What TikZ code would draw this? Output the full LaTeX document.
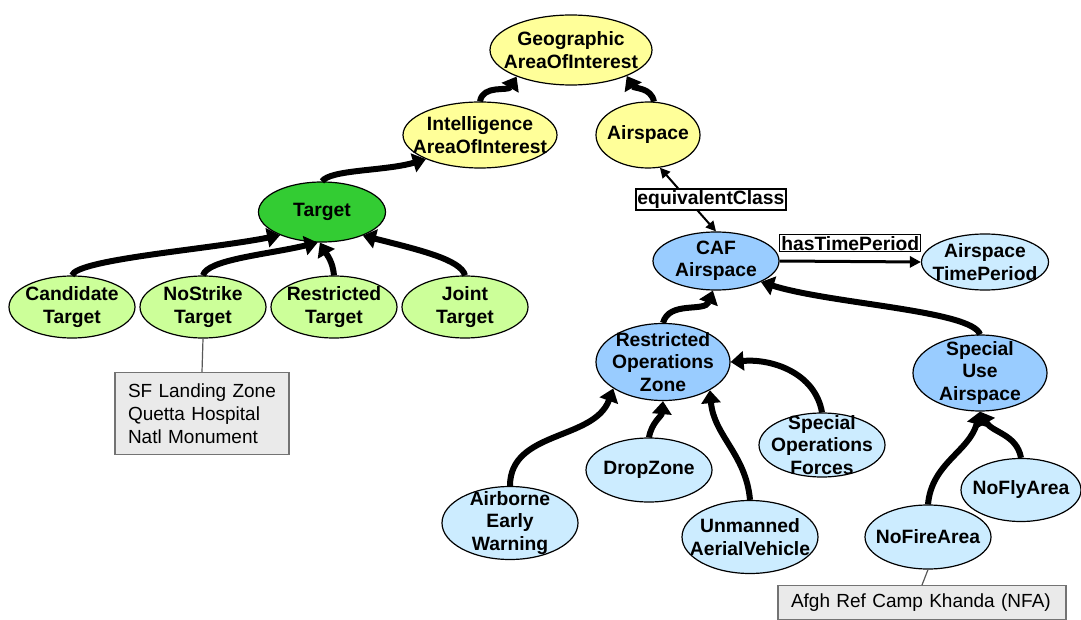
\documentclass[tikz,border=0pt]{standalone}
\usepackage{fontspec}
\setmainfont{Liberation Sans}
\usetikzlibrary{positioning,shapes.geometric,arrows.meta}
\definecolor{aoiyellow}{HTML}{FFFF99}
\definecolor{tgtgreen}{HTML}{33CC33}
\definecolor{subgreen}{HTML}{CCFF99}
\definecolor{cafblue}{HTML}{99CCFF}
\definecolor{subblue}{HTML}{CCECFF}
\definecolor{notegray}{HTML}{EAEAEA}
\tikzset{
  cls/.style={ellipse,draw=black,line width=1.2pt,align=center,
    inner xsep=-30pt,inner ysep=-20pt,
    font=\bfseries\fontsize{19.3}{22.5}\selectfont},
  isa/.style={line width=6pt,-{Triangle[length=13pt,width=19pt]}},
  rel/.style={line width=2pt,{Triangle[length=10pt,width=10pt]}-{Triangle[length=10pt,width=10pt]}},
  has/.style={line width=3pt,-{Triangle[length=11pt,width=11pt]}},
  lbl/.style={draw=black,line width=1.2pt,fill=white,inner xsep=1.5pt,inner ysep=1.5pt,
    font=\bfseries\fontsize{19.3}{22}\selectfont},
  note/.style={draw=black!55,fill=notegray,line width=1.2pt,align=left,anchor=north,
    inner xsep=13pt,font=\fontsize{19}{23}\selectfont},
  noteline/.style={draw=black!65,line width=1.2pt}
}
\begin{document}
\begin{tikzpicture}[x=1pt,y=1pt,line width=1pt]
  \useasboundingbox (0,0) rectangle (1081,-620);
  \node[cls,fill=aoiyellow,minimum width=162pt,minimum height=70pt] (geo) at (571,-50) {Geographic\\AreaOfInterest};
  \node[cls,fill=aoiyellow,minimum width=154pt,minimum height=66pt] (iaoi) at (480,-135) {Intelligence\\AreaOfInterest};
  \node[cls,fill=aoiyellow,minimum width=104pt,minimum height=66pt] (airsp) at (648,-135) {Airspace};
  \node[cls,fill=tgtgreen,minimum width=127pt,minimum height=60pt] (tgt) at (322,-212) {Target};
  \node[cls,fill=subgreen,minimum width=126pt,minimum height=62pt] (ctgt) at (72,-307) {Candidate\\Target};
  \node[cls,fill=subgreen,minimum width=126pt,minimum height=62pt] (nstgt) at (203,-307) {NoStrike\\Target};
  \node[cls,fill=subgreen,minimum width=126pt,minimum height=62pt] (rtgt) at (334,-307) {Restricted\\Target};
  \node[cls,fill=subgreen,minimum width=126pt,minimum height=62pt] (jtgt) at (465,-307) {Joint\\Target};
  \node[cls,fill=cafblue,minimum width=126pt,minimum height=58pt] (caf) at (716,-261) {CAF\\Airspace};
  \node[cls,fill=subblue,minimum width=127pt,minimum height=56pt] (atp) at (985,-262) {Airspace\\TimePeriod};
  \node[cls,fill=cafblue,minimum width=134pt,minimum height=77pt] (roz) at (663,-362) {Restricted\\Operations\\Zone};
  \node[cls,fill=cafblue,minimum width=134pt,minimum height=76pt] (sua) at (980,-373) {Special\\Use\\Airspace};
  \node[cls,fill=subblue,minimum width=126pt,minimum height=64pt] (dz) at (649,-470) {DropZone};
  \node[cls,fill=subblue,minimum width=136pt,minimum height=73pt] (aew) at (510,-523) {Airborne\\Early\\Warning};
  \node[cls,fill=subblue,minimum width=136pt,minimum height=73pt] (uav) at (750,-537) {Unmanned\\AerialVehicle};
  \node[cls,fill=subblue,minimum width=126pt,minimum height=64pt] (sof) at (822,-445) {Special\\Operations\\Forces};
  \node[cls,fill=subblue,minimum width=120pt,minimum height=63pt] (nfly) at (1021,-490) {NoFlyArea};
  \node[cls,fill=subblue,minimum width=126pt,minimum height=64pt] (nfire) at (928,-537) {NoFireArea};
  \node[note,text width=148pt,minimum height=82pt] (nsnote) at (202,-372) {SF Landing Zone\\Quetta Hospital\\Natl Monument};
  \node[note,text width=262pt,inner ysep=8pt] (nfanote) at (922,-585) {Afgh Ref Camp Khanda (NFA)};
  \draw[isa] (iaoi.north) to[out=80,in=240] (geo.206);
  \draw[isa] (airsp.80) to[out=100,in=300] (geo.335);
  \draw[isa] (tgt.north) .. controls +(8,12) and +(-40,-12) .. (iaoi.204);
  \draw[isa] (ctgt.north) .. controls +(4,16) and +(-70,-14) .. (tgt.209);
  \draw[isa] (nstgt.north) .. controls +(4,16) and +(-50,-12) .. (tgt.262);
  \draw[isa] (rtgt.north) to[out=95,in=300] (tgt.266);
  \draw[isa] (jtgt.north) .. controls +(-4,16) and +(55,-14) .. (tgt.330);
  \draw[isa] (roz.north) to[out=75,in=250] (caf.264);
  \draw[isa] (sua.north) .. controls +(-8,24) and +(70,-22) .. (caf.335);
  \draw[isa] (aew.north) to[out=90,in=250] (roz.208);
  \draw[isa] (dz.north) to[out=80,in=265] (roz.south);
  \draw[isa] (uav.north) to[out=95,in=275] (roz.329);
  \draw[isa] (sof.north) to[out=100,in=5] (roz.east);
  \draw[isa] (nfire.north) to[out=85,in=255] (sua.south);
  \draw[isa] (nfly.north) to[out=100,in=300] (sua.south);
  \draw[rel] (airsp.290) -- node[lbl,xshift=23pt] {equivalentClass} (caf.north);
  \draw[has] (caf.east) -- node[lbl,above=9pt] {hasTimePeriod} (atp.west);
  \draw[noteline] (nstgt.south) -- (nsnote.north);
  \draw[noteline] (nfire.south) -- (nfanote.north);
\end{tikzpicture}
\end{document}
